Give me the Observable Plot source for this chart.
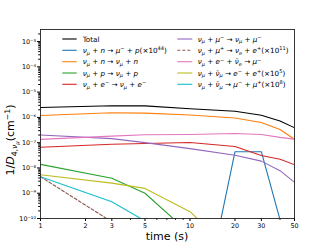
<!DOCTYPE html>
<html><head><meta charset="utf-8">
<script src="https://cdn.jsdelivr.net/npm/d3@7"></script>
<script src="https://cdn.jsdelivr.net/npm/@observablehq/plot@0.6"></script>
<style>body{margin:0;background:#fff}</style>
</head><body><div id="chart"></div>
<script>
// ---- data ----
const times = [1, 3, 5, 10, 20, 30, 40, 50];
const total      = [2.46e-6, 2.9e-6, 2.85e-6, 2.2e-6, 1.74e-6, 1.22e-6, 7.2e-7, 3.9e-7];
const numuN_muP  = [1e-20, 1e-20, 1e-20, 1.3e-16, 4.4e-8, 4.4e-8, 9e-11, 1e-20];
const numuN_numuN = [1.19e-6, 1.53e-6, 1.47e-6, 1.24e-6, 9.5e-7, 6.3e-7, 3.3e-7, 1.35e-7];
const numuP_numuP = [1.38e-8, 3.9e-9, 1.0e-9, 2.5e-11, 1e-13, 1e-14, 1e-15, 1e-16];
const numuE_numuE = [6.6e-8, 8.7e-8, 9.3e-8, 1.02e-7, 7.1e-8, 3.1e-8, 2.2e-8, 1.35e-8];
const numuMu_numuMu = [2.0e-7, 1.45e-7, 1.0e-7, 5.8e-8, 3.2e-8, 1.86e-8, 7.8e-9, 2.7e-9];
const numuMup_nueEp = [4.5e-9, 7.4e-11, 1e-13, 1e-15, 1e-17, 1e-18, 1e-19, 1e-20];
const numuEnuebar_mu = [1.35e-7, 1.82e-7, 2.05e-7, 2.1e-7, 2.3e-7, 2.1e-7, 1.62e-7, 1.38e-7];
const numubar_ee = [5.4e-9, 2.5e-9, 1.55e-9, 1.86e-10, 4e-12, 1e-13, 1e-14, 1e-15];
const numubar_mumu = [4.5e-9, 4.6e-10, 8e-11, 1e-13, 1e-15, 1e-16, 1e-17, 1e-18];

const seriesNames = ["total","numuN_muP","numuN_numuN","numuP_numuP","numuE_numuE","numuMu_numuMu","numuMup_nueEp","numuEnuebar_mu","numubar_ee","numubar_mumu"];
const seriesValues = [total, numuN_muP, numuN_numuN, numuP_numuP, numuE_numuE, numuMu_numuMu, numuMup_nueEp, numuEnuebar_mu, numubar_ee, numubar_mumu];
const seriesLabels = [
  "Total",
  "ν_{μ} + n → μ^{−} + p(×10^{44})",
  "ν_{μ} + n → ν_{μ} + n",
  "ν_{μ} + p → ν_{μ} + p",
  "ν_{μ} + e^{−} → ν_{μ} + e^{−}",
  "ν_{μ} + μ^{−} → ν_{μ} + μ^{−}",
  "ν_{μ} + μ^{+} → ν_{e} + e^{+}(×10^{11})",
  "ν_{μ} + e^{−} + ν̄_{e} → μ^{−}",
  "ν_{μ} + ν̄_{μ} → e^{−} + e^{+}(×10^{5})",
  "ν_{μ} + ν̄_{μ} → μ^{−} + μ^{+}(×10^{8})"
];
const seriesColors = ["#000000","#1f77b4","#ff7f0e","#2ca02c","#d62728","#9467bd","#8c564b","#e377c2","#bcbd22","#17becf"];
const seriesDash = [null,null,null,null,null,null,"3,2",null,null,null];

const xTicks = [1, 2, 3, 5, 10, 20, 30, 50];
const xTickLabels = ["1","2","3","5","10","20","30","50"];
const xMinorTicks = [4, 6, 7, 8, 9, 40];
const yTicks = [1e-10, 1e-9, 1e-8, 1e-7, 1e-6, 1e-5, 1e-4, 1e-3];
const yTickLabels = ["10⁻¹⁰","10⁻⁹","10⁻⁸","10⁻⁷","10⁻⁶","10⁻⁵","10⁻⁴","10⁻³"];
const minorMult = [2,3,4,5,6,7,8,9];
const yMinorTicks = yTicks.flatMap(t => minorMult.map(m => t * m)).filter(v => v < 3e-3);

// ---- table ----
const table = times.map((t, i) => {
  const row = {t};
  seriesNames.forEach((n, k) => row[n] = seriesValues[k][i]);
  return row;
});

const FONT = "DejaVu Sans";
const plot = Plot.plot({
  width: 327, height: 245,
  marginLeft: 40, marginRight: 33, marginTop: 29, marginBottom: 27,
  style: {fontFamily: FONT, fontSize: "6.4px", background: "white", color: "black", overflow: "visible"},
  x: {type: "log", domain: [1, 50]},
  y: {type: "log", domain: [1e-10, 3e-3]},
  marks: [
    Plot.axisX({ticks: xTicks, tickFormat: d => xTickLabels[xTicks.indexOf(d)], tickSize: 3, tickPadding: 1.5, label: null}),
    Plot.axisX({ticks: xMinorTicks, fill: "none", tickSize: 1.8, label: null}),
    Plot.axisY({ticks: yTicks, tickFormat: d => yTickLabels[yTicks.indexOf(d)], tickSize: 3, tickPadding: 1.5, label: null}),
    Plot.axisY({ticks: yMinorTicks, fill: "none", tickSize: 1.8, label: null}),
    ...seriesNames.map((n, k) => Plot.line(table, {
      x: "t", y: n, stroke: seriesColors[k], strokeWidth: 1.1,
      strokeDasharray: seriesDash[k] || undefined, clip: true
    })),
    Plot.frame({stroke: "#222", strokeWidth: 0.9})
  ]
});
document.getElementById("chart").append(plot);

// ---- rich text helper ----
function parseRich(str) {
  const runs = [];
  function rec(s, shift, scale) {
    let i = 0, buf = "";
    const flush = () => { if (buf) { runs.push({text: buf, shift, scale}); buf = ""; } };
    while (i < s.length) {
      const c = s[i];
      if ((c === "_" || c === "^") && s[i + 1] === "{") {
        flush();
        let depth = 1, j = i + 2;
        while (j < s.length && depth > 0) { if (s[j] === "{") depth++; else if (s[j] === "}") depth--; j++; }
        rec(s.slice(i + 2, j - 1), shift + (c === "_" ? 0.25 : -0.38) * scale, scale * 0.7);
        i = j;
      } else { buf += c; i++; }
    }
    flush();
  }
  rec(str, 0, 1);
  return runs;
}
function richText(parent, str, x, y, fs, italicRe, anchor) {
  const t = parent.append("text").attr("x", x).attr("y", y)
    .attr("text-anchor", anchor || "start")
    .attr("font-size", fs).attr("font-family", FONT).attr("fill", "black");
  let prev = 0;
  for (const run of parseRich(str)) {
    const segs = [];
    for (const ch of run.text) {
      const it = italicRe ? italicRe.test(ch) : false;
      if (segs.length && segs[segs.length - 1].it === it) segs[segs.length - 1].s += ch;
      else segs.push({s: ch, it});
    }
    segs.forEach((sg, idx) => {
      const ts = t.append("tspan").text(sg.s)
        .attr("font-size", fs * run.scale)
        .attr("font-style", sg.it ? "italic" : "normal");
      if (idx === 0) ts.attr("dy", (run.shift - prev) * fs);
    });
    prev = run.shift;
  }
  return t;
}

const svg = d3.select(plot);
// legend
const lg = svg.append("g");
const legFs = 7.2;
const rowY = [39, 50.3, 61.7, 73, 84.3];
const cols = [{x0: 62.3, x1: 76.7, tx: 82.7}, {x0: 177.3, x1: 192.3, tx: 197.7}];
seriesLabels.forEach((lab, k) => {
  const c = cols[Math.floor(k / 5)], yy = rowY[k % 5];
  lg.append("line").attr("x1", c.x0).attr("x2", c.x1).attr("y1", yy).attr("y2", yy)
    .attr("stroke", seriesColors[k]).attr("stroke-width", 1.1)
    .attr("stroke-dasharray", seriesDash[k]);
  richText(lg, lab, c.tx, yy + legFs * 0.36, legFs, k === 0 ? null : /[a-zA-Zνμ]/, "start");
});
// axis labels
svg.append("text").attr("x", 167).attr("y", 240).attr("text-anchor", "middle")
  .attr("font-size", 11).attr("font-family", FONT).attr("fill", "black").text("time (s)");
const yl = svg.append("g").attr("transform", "translate(14,140) rotate(-90)");
richText(yl, "1/D_{4,ν_{μ}}(cm^{−1})", 0, 0, 11, /[Dνμ]/, "middle");
</script>
</body></html>
